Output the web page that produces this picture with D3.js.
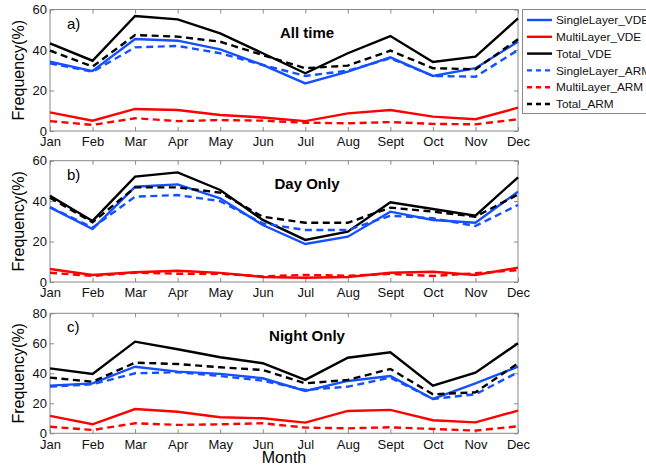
<!DOCTYPE html>
<meta charset="utf-8">
<script src="https://cdn.jsdelivr.net/npm/d3@7"></script>
<style>
  body { margin: 0; background: #fff; }
  svg { font-family: "Liberation Sans", Arial, sans-serif; }
</style>
<div id="chart"></div>
<script>
  const months = ['Jan','Feb','Mar','Apr','May','Jun','Jul','Aug','Sept','Oct','Nov','Dec']

  // a) All time
  const allSingleVDE = [34.2, 29.6, 45.4, 44.6, 40.3, 32.6, 23.5, 29.3, 36.4, 27.2, 31.0, 44.1]
  const allMultiVDE  = [9.2, 5.1, 10.9, 10.4, 7.9, 6.7, 4.9, 8.7, 10.4, 7.1, 5.8, 11.5]
  const allTotalVDE  = [43.3, 34.7, 56.8, 55.1, 48.2, 38.4, 28.5, 38.4, 46.9, 34.1, 36.7, 55.6]
  const allSingleARM = [33.4, 29.3, 41.3, 42.0, 38.4, 32.6, 27.2, 29.8, 35.9, 27.2, 26.8, 40.0]
  const allMultiARM  = [4.9, 3.0, 6.3, 4.9, 5.4, 5.1, 4.1, 3.8, 4.4, 3.5, 3.3, 5.8]
  const allTotalARM  = [39.7, 31.8, 47.4, 46.6, 44.1, 37.5, 31.0, 32.3, 39.7, 31.0, 30.5, 45.3]

  // b) Day only
  const daySingleVDE = [36.9, 26.2, 47.1, 48.3, 41.4, 28.2, 18.8, 22.4, 34.8, 30.7, 29.3, 44.7]
  const dayMultiVDE  = [6.4, 3.5, 4.8, 5.6, 4.5, 2.5, 2.1, 2.5, 4.6, 5.1, 3.5, 7.1]
  const dayTotalVDE  = [42.7, 30.2, 52.1, 54.2, 45.5, 30.7, 20.8, 24.9, 39.4, 36.1, 32.8, 51.8]
  const daySingleARM = [37.0, 26.9, 42.2, 43.0, 40.0, 29.0, 25.7, 25.7, 32.8, 31.5, 27.7, 38.1]
  const dayMultiARM  = [4.6, 3.0, 4.6, 4.1, 4.1, 2.8, 3.5, 3.1, 4.0, 3.0, 4.3, 5.9]
  const dayTotalARM  = [41.7, 29.5, 46.8, 46.8, 44.2, 32.3, 29.3, 29.3, 36.8, 34.8, 32.3, 43.3]

  // c) Night only
  const nightSingleVDE = [31.8, 33.3, 44.4, 41.1, 39.6, 36.7, 28.2, 34.9, 38.2, 22.9, 33.3, 44.4]
  const nightMultiVDE  = [11.6, 6.0, 16.2, 14.4, 10.7, 10.0, 7.1, 14.9, 15.6, 8.7, 7.3, 15.1]
  const nightTotalVDE  = [43.3, 39.6, 61.1, 56.0, 50.7, 46.7, 35.6, 50.4, 54.0, 31.8, 40.4, 60.0]
  const nightSingleARM = [31.1, 32.7, 40.0, 40.7, 38.2, 35.1, 28.9, 31.1, 37.1, 22.9, 26.0, 40.7]
  const nightMultiARM  = [4.4, 2.2, 6.7, 5.6, 6.0, 6.7, 3.8, 3.3, 4.0, 2.9, 1.8, 4.7]
  const nightTotalARM  = [37.1, 34.4, 47.1, 46.2, 44.0, 42.2, 33.3, 35.6, 42.9, 26.0, 27.3, 46.7]

  const seriesNames = ['SingleLayer_VDE','MultiLayer_VDE','Total_VDE','SingleLayer_ARM','MultiLayer_ARM','Total_ARM']
  const yTicksA = [0, 20, 40, 60]
  const yTicksC = [0, 20, 40, 60, 80]

  const blue = '#1450ff', red = '#ff0000', black = '#000000'
  const styles = [
    { color: blue, dash: null }, { color: red, dash: null }, { color: black, dash: null },
    { color: blue, dash: '7,4.5' }, { color: red, dash: '7,4.5' }, { color: black, dash: '7,4.5' }
  ]

  const panels = [
    { tag: 'a)', title: 'All time', top: 9.5, bottom: 131, max: 60, ticks: yTicksA,
      series: [allSingleVDE, allMultiVDE, allTotalVDE, allSingleARM, allMultiARM, allTotalARM] },
    { tag: 'b)', title: 'Day Only', top: 160.7, bottom: 282, max: 60, ticks: yTicksA,
      series: [daySingleVDE, dayMultiVDE, dayTotalVDE, daySingleARM, dayMultiARM, dayTotalARM] },
    { tag: 'c)', title: 'Night Only', top: 313.3, bottom: 433.3, max: 80, ticks: yTicksC,
      series: [nightSingleVDE, nightMultiVDE, nightTotalVDE, nightSingleARM, nightMultiARM, nightTotalARM] }
  ]

  const width = 646, height = 466
  const left = 50, right = 518
  const frameColor = '#888'

  const svg = d3.select('#chart').append('svg')
    .attr('width', width).attr('height', height)

  const x = d3.scalePoint().domain(months).range([left, right])

  panels.forEach((p) => {
    const y = d3.scaleLinear().domain([0, p.max]).range([p.bottom, p.top])
    const g = svg.append('g')

    // frame
    g.append('rect')
      .attr('x', left).attr('y', p.top)
      .attr('width', right - left).attr('height', p.bottom - p.top)
      .attr('fill', 'none').attr('stroke', frameColor).attr('stroke-width', 1)

    // inward ticks on all four sides
    const xb = g.append('g').attr('transform', `translate(0,${p.bottom})`)
      .call(d3.axisBottom(x).tickSizeInner(-4).tickSizeOuter(0).tickPadding(6))
    const xt = g.append('g').attr('transform', `translate(0,${p.top})`)
      .call(d3.axisTop(x).tickSizeInner(-4).tickSizeOuter(0).tickFormat(''))
    const yl = g.append('g').attr('transform', `translate(${left},0)`)
      .call(d3.axisLeft(y).tickValues(p.ticks).tickSizeInner(-4).tickSizeOuter(0).tickPadding(3))
    const yr = g.append('g').attr('transform', `translate(${right},0)`)
      .call(d3.axisRight(y).tickValues(p.ticks).tickSizeInner(-4).tickSizeOuter(0).tickFormat(''))
    ;[xb, xt, yl, yr].forEach(a => {
      a.select('.domain').remove()
      a.selectAll('line').attr('stroke', frameColor)
      a.selectAll('text').attr('fill', '#111').style('font-size', '13px')
    })

    // lines
    const line = d3.line().x((d, i) => x(months[i])).y(d => y(d))
    p.series.forEach((s, si) => {
      g.append('path')
        .datum(s)
        .attr('fill', 'none')
        .attr('stroke', styles[si].color)
        .attr('stroke-width', 2.4)
        .attr('stroke-dasharray', styles[si].dash)
        .attr('d', line)
    })

    g.append('text')
      .attr('x', 67).attr('y', p.top + 19)
      .style('font-size', '15px').text(p.tag)
    g.append('text')
      .attr('x', 307).attr('y', p.top + 28)
      .attr('text-anchor', 'middle')
      .style('font-size', '15px').style('font-weight', 'bold')
      .text(p.title)

    g.append('text')
      .attr('transform', `translate(24,${(p.top + p.bottom) / 2}) rotate(-90)`)
      .attr('text-anchor', 'middle')
      .style('font-size', '16px')
      .text('Frequency(%)')
  })

  svg.append('text')
    .attr('x', (left + right) / 2).attr('y', 463)
    .attr('text-anchor', 'middle')
    .style('font-size', '16px')
    .text('Month')

  // legend (runs off the right edge, as in the original figure)
  const legend = svg.append('g')
  legend.append('rect')
    .attr('x', 522.5).attr('y', 9.5).attr('width', 140).attr('height', 104)
    .attr('fill', '#fff').attr('stroke', frameColor)
  seriesNames.forEach((name, i) => {
    const ly = 20 + i * 16.8
    legend.append('line')
      .attr('x1', 527).attr('x2', 552).attr('y1', ly).attr('y2', ly)
      .attr('stroke', styles[i].color).attr('stroke-width', 2.4)
      .attr('stroke-dasharray', styles[i].dash ? '5,4' : null)
    legend.append('text')
      .attr('x', 556).attr('y', ly).attr('dy', '0.35em')
      .style('font-size', '11.8px').attr('fill', '#111')
      .text(name)
  })
</script>
